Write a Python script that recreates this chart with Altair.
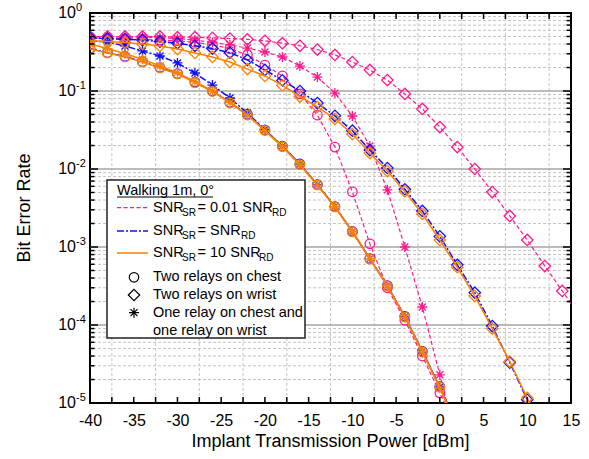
import altair as alt
import pandas as pd

# ---------------- data ----------------
X_DB = [-40, -38, -36, -34, -32, -30, -28, -26, -24, -22, -20, -18, -16, -14,
        -12, -10, -8, -6, -4, -2, 0, 2, 4, 6, 8, 10, 12, 14, 16]

# SNR_SR = 0.01 SNR_RD (pink)
PINK_CIRCLE = [0.48, 0.48, 0.47, 0.46, 0.45, 0.44, 0.42, 0.39, 0.35, 0.29, 0.215,
               0.156, 0.092, 0.049, 0.0191, 0.0051, 0.0011, 3.0e-4, 1.15e-4, 4.0e-5,
               1.35e-5, 4.5e-6]
PINK_WRIST = [0.50, 0.50, 0.50, 0.50, 0.50, 0.49, 0.49, 0.48, 0.47, 0.46, 0.44,
              0.41, 0.38, 0.34, 0.29, 0.235, 0.186, 0.138, 0.0916, 0.0588, 0.0345,
              0.0191, 0.0100, 0.00507, 0.00250, 0.00123, 5.7e-4, 2.73e-4, 1.3e-4]
PINK_MIXED = [0.50, 0.50, 0.49, 0.49, 0.48, 0.47, 0.45, 0.42, 0.39, 0.355, 0.316,
              0.273, 0.209, 0.151, 0.094, 0.0478, 0.0197, 0.0054, 0.0010, 1.7e-4,
              2.3e-5, 2.9e-6]

# SNR_SR = SNR_RD (blue)
BLUE_CIRCLE = [0.35, 0.31, 0.277, 0.238, 0.2, 0.167, 0.13, 0.1, 0.0712, 0.05, 0.0316,
               0.0196, 0.0116, 0.0063, 0.0033, 0.00158, 7.1e-4, 3.2e-4, 1.29e-4, 4.6e-5,
               1.62e-5, 5.1e-6]
BLUE_WRIST = [0.48, 0.47, 0.46, 0.45, 0.43, 0.41, 0.38, 0.35, 0.31, 0.25, 0.186,
              0.137, 0.100, 0.070, 0.048, 0.031, 0.0175, 0.0103, 0.0055, 0.0029,
              0.00137, 5.9e-4, 2.6e-4, 9.7e-5, 3.3e-5, 1.1e-5, 3.3e-6]
BLUE_MIXED = [0.44, 0.425, 0.378, 0.326, 0.281, 0.229, 0.17, 0.119, 0.0813, 0.052,
              0.032, 0.0196, 0.0115, 0.0063, 0.0033, 0.00157, 7.1e-4, 3.2e-4, 1.28e-4,
              4.6e-5, 1.6e-5, 5.0e-6]

# SNR_SR = 10 SNR_RD (orange)
ORANGE_CIRCLE = [0.345, 0.307, 0.273, 0.235, 0.197, 0.165, 0.128, 0.0986, 0.0702,
                 0.0492, 0.0312, 0.0194, 0.0114, 0.00624, 0.00326, 0.00156, 7.0e-4,
                 3.16e-4, 1.27e-4, 4.5e-5, 1.6e-5, 5.0e-6]
ORANGE_WRIST = [0.44, 0.43, 0.42, 0.40, 0.378, 0.345, 0.307, 0.273, 0.235, 0.191,
                0.156, 0.118, 0.085, 0.0624, 0.0438, 0.0281, 0.016, 0.0094, 0.00515,
                0.00265, 0.00123, 5.5e-4, 2.35e-4, 9.0e-5, 3.4e-5, 1.16e-5, 3.5e-6]
ORANGE_MIXED = [0.40, 0.35, 0.30, 0.255, 0.21, 0.172, 0.132, 0.1, 0.071, 0.049,
                0.031, 0.0192, 0.0113, 0.0062, 0.0033, 0.00158, 7.1e-4, 3.2e-4,
                1.26e-4, 4.6e-5, 1.55e-5, 4.8e-6]

X_LABELS = [-40, -35, -30, -25, -20, -15, -10, -5, 0, 5, 10, 15]
X_GRID = [-37.5, -32.5, -27.5, -22.5, -17.5, -12.5, -7.5, -2.5, 2.5, 7.5, 12.5]
X_TICKS = [-40 + 2.5 * i for i in range(23)]
DECADES = [1, 0.1, 0.01, 0.001, 1e-4, 1e-5]
EXPONENTS = ["0", "-1", "-2", "-3", "-4", "-5"]
MANTISSAS = [2, 3, 4, 5, 6, 7, 8, 9]
MINOR = [m * d for d in DECADES[1:] for m in MANTISSAS]

LEGEND_TITLE = "Walking 1m, 0\u00b0"
RATIO_TEXT = ["= 0.01 SNR", "= SNR", "= 10 SNR"]
PLACEMENT_TEXT = ["Two relays on chest", "Two relays on wrist",
                  "One relay on chest and", "one relay on wrist"]

# ---------------- styling ----------------
FONT = "Liberation Sans"
W, H = 481, 390
PINK, BLUE, ORANGE = "#FF1A8C", "#0F0FFF", "#FF8000"
ASTER = "M0,-1L0,1M-1,0L1,0M-0.7,-0.7L0.7,0.7M-0.7,0.7L0.7,-0.7"

XS = alt.Scale(domain=[-40, 15], nice=False, zero=False)
YS = alt.Scale(type="log", domain=[1e-5, 1], nice=False)
X_AXIS = alt.Axis(values=X_LABELS, grid=False, ticks=False, tickSize=0, domain=False,
                  labelFontSize=16, labelFont=FONT, labelColor="black",
                  labelPadding=9, labelFlush=False, labelExpr="datum.value + ''",
                  title=None)


def xe(f):
    return alt.X(f"{f}:Q", scale=XS, axis=X_AXIS)


def ye(f):
    return alt.Y(f"{f}:Q", scale=YS, axis=None)


def series_df(vals):
    return pd.DataFrame({"x": X_DB[:len(vals)], "ber": vals})


layers = []

# grid
layers.append(alt.Chart(pd.DataFrame({"x": X_GRID})).mark_rule(
    color="#c4c4c4", strokeDash=[3, 2], strokeWidth=1).encode(x=xe("x")))
layers.append(alt.Chart(pd.DataFrame({"y": MINOR})).mark_rule(
    color="#c4c4c4", strokeDash=[3, 2], strokeWidth=1).encode(y=ye("y")))
layers.append(alt.Chart(pd.DataFrame({"y": DECADES[1:-1]})).mark_rule(
    color="#a6a6a6", strokeWidth=1.6).encode(y=ye("y")))

# series
styles = [
    (PINK, [4, 2.5], 1.2, [(PINK_CIRCLE, "circle", 90), (PINK_WRIST, "diamond", 130), (PINK_MIXED, ASTER, 100)]),
    (BLUE, [7, 2, 2, 2], 1.5, [(BLUE_CIRCLE, "circle", 90), (BLUE_WRIST, "diamond", 130), (BLUE_MIXED, ASTER, 100)]),
    (ORANGE, None, 1.5, [(ORANGE_CIRCLE, "circle", 90), (ORANGE_WRIST, "diamond", 130), (ORANGE_MIXED, ASTER, 100)]),
]
for color, dash, lw, sers in styles:
    for vals, shape, size in sers:
        df = series_df(vals)
        lk = dict(color=color, strokeWidth=lw, clip=True)
        if dash:
            lk["strokeDash"] = dash
        layers.append(alt.Chart(df).mark_line(**lk).encode(x=xe("x"), y=ye("ber"), order="x:Q"))
        layers.append(alt.Chart(df).mark_point(shape=shape, size=size, filled=False, color=color,
                                               strokeWidth=1.3, opacity=1, clip=True)
                      .encode(x=xe("x"), y=ye("ber")))

# ticks (inward)
tdf = pd.DataFrame({"x": X_TICKS})
layers.append(alt.Chart(tdf).mark_rule(color="black", strokeWidth=1.5).encode(
    x=xe("x"), y=alt.value(H), y2=alt.value(H - 6)))
layers.append(alt.Chart(tdf).mark_rule(color="black", strokeWidth=1.5).encode(
    x=xe("x"), y=alt.value(0), y2=alt.value(6)))
mdf = pd.DataFrame({"y": DECADES})
ndf = pd.DataFrame({"y": MINOR})
for d, ln in ((mdf, 8), (ndf, 4.5)):
    layers.append(alt.Chart(d).mark_rule(color="black", strokeWidth=1.5).encode(
        y=ye("y"), x=alt.value(0), x2=alt.value(ln)))
    layers.append(alt.Chart(d).mark_rule(color="black", strokeWidth=1.5).encode(
        y=ye("y"), x=alt.value(W), x2=alt.value(W - ln)))

# y tick labels 10^k
ydf = pd.DataFrame({"y": DECADES, "e": EXPONENTS})
layers.append(alt.Chart(ydf).mark_text(align="right", baseline="middle", fontSize=16,
                                       font=FONT, color="black").encode(
    y=ye("y"), x=alt.value(-14), text=alt.value("10")))
layers.append(alt.Chart(ydf).mark_text(align="left", baseline="middle", fontSize=11,
                                       font=FONT, color="black", dy=-5).encode(
    y=ye("y"), x=alt.value(-14), text="e:N"))

# axis titles
one = pd.DataFrame({"a": [0]})
layers.append(alt.Chart(one).mark_text(fontSize=18, font=FONT, color="black",
                                       baseline="middle", align="center").encode(
    x=alt.value(W / 2), y=alt.value(429), text=alt.value("Implant Transmission Power [dBm]")))
layers.append(alt.Chart(one).mark_text(fontSize=18, font=FONT, color="black", angle=270,
                                       baseline="middle", align="center").encode(
    x=alt.value(-65), y=alt.value(H / 2), text=alt.value("Bit Error Rate")))

# legend
layers.append(alt.Chart(one).mark_rect(fill="white", stroke="#222222", strokeWidth=1.5).encode(
    x=alt.value(17), x2=alt.value(215), y=alt.value(167), y2=alt.value(325)))


def txt(s, x, y, size=14.5, dy=0):
    return alt.Chart(one).mark_text(align="left", baseline="middle", fontSize=size, font=FONT,
                                    color="black", dy=dy).encode(
        x=alt.value(x), y=alt.value(y), text=alt.value(s))


layers.append(txt(LEGEND_TITLE, 27, 177.5))
layers.append(alt.Chart(one).mark_rule(color="black", strokeWidth=1).encode(
    x=alt.value(27), x2=alt.value(123), y=alt.value(184)))

line_rows = [(PINK, [4, 2.5], 1.2, 194.7, 182), (BLUE, [7, 2, 2, 2], 1.5, 218, 151),
             (ORANGE, None, 1.5, 240, 169)]
for (color, dash, lw, yy, rdx), rt in zip(line_rows, RATIO_TEXT):
    rk = dict(color=color, strokeWidth=lw)
    if dash:
        rk["strokeDash"] = dash
    layers.append(alt.Chart(one).mark_rule(**rk).encode(
        x=alt.value(27), x2=alt.value(58), y=alt.value(yy)))
    layers.append(txt("SNR", 63, yy))
    layers.append(txt("SR", 92, yy, size=10, dy=5))
    layers.append(txt(rt, 107.5, yy))
    layers.append(txt("RD", rdx, yy, size=10, dy=5))

for shape, yy, size in (("circle", 264.3, 90), ("diamond", 282, 130), (ASTER, 299.7, 100)):
    layers.append(alt.Chart(one).mark_point(shape=shape, size=size, filled=False, color="black",
                                            strokeWidth=1.2, opacity=1).encode(
        x=alt.value(44), y=alt.value(yy)))
for s, yy in zip(PLACEMENT_TEXT, (264.3, 282, 299.7, 317.5)):
    layers.append(txt(s, 63, yy))

chart = alt.layer(*layers).properties(
    width=W, height=H,
    autosize=alt.AutoSizeParams(type="none"),
    padding={"left": 90, "top": 13, "right": 18, "bottom": 56},
    background="white",
).configure_view(stroke="black", strokeWidth=2)

chart.save("out.html", embed_options={"renderer": "svg", "actions": False})
